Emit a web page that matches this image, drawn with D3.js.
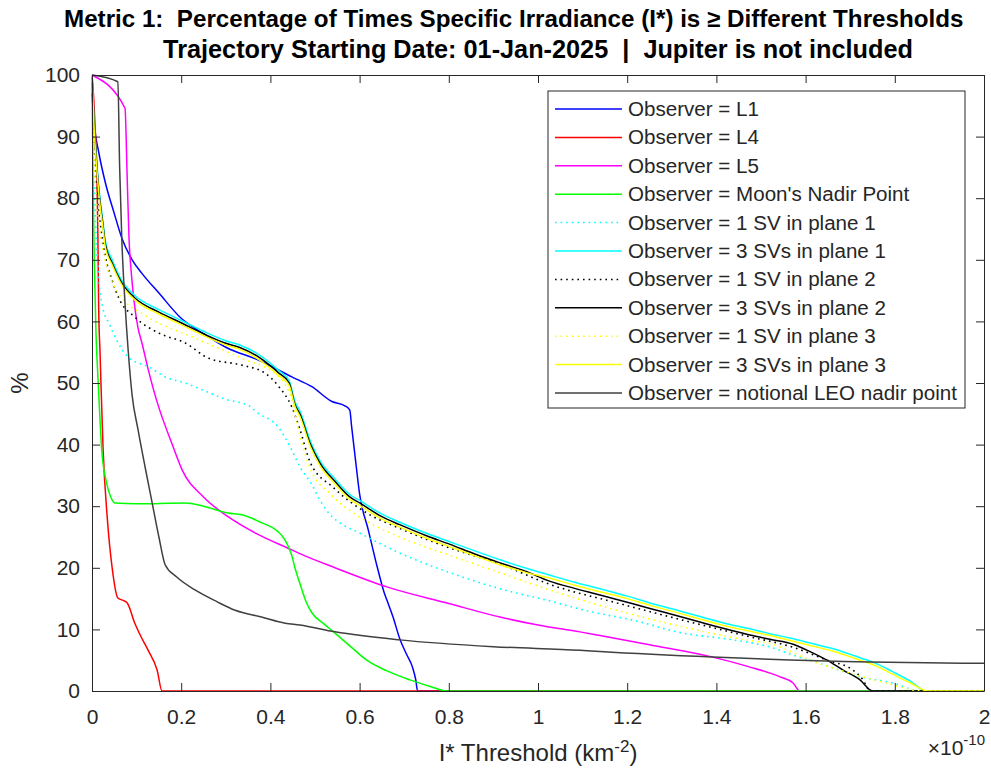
<!DOCTYPE html>
<html><head><meta charset="utf-8">
<script src="https://cdn.jsdelivr.net/npm/d3@7"></script>
<style>
body{margin:0;background:#fff}
text{font-family:"Liberation Sans",Arial,Helvetica,sans-serif;fill:#262626}
</style></head>
<body><svg id="c" width="991" height="771"></svg>
<script>
// ---------- data (x in units of 1e-10 km^-2, y in %) ----------
const xTicks = [0,0.2,0.4,0.6,0.8,1,1.2,1.4,1.6,1.8,2];
const xTickLabels = ["0","0.2","0.4","0.6","0.8","1","1.2","1.4","1.6","1.8","2"];
const yTicks = [0,10,20,30,40,50,60,70,80,90,100];
const yTickLabels = ["0","10","20","30","40","50","60","70","80","90","100"];

const seriesNames = ["Observer = L1","Observer = L4","Observer = L5","Observer = Moon's Nadir Point",
  "Observer = 1 SV in plane 1","Observer = 3 SVs in plane 1","Observer = 1 SV in plane 2",
  "Observer = 3 SVs in plane 2","Observer = 1 SV in plane 3","Observer = 3 SVs in plane 3",
  "Observer = notional LEO nadir point"];

const obsL1 = [[0,97],[0.005,92],[0.015,87.5],[0.03,82.5],[0.05,77.5],[0.067,73.5],[0.09,70],[0.112,67.8],[0.15,64.6],[0.2,60.5],[0.25,58],[0.3,55.8],[0.374,53.7],[0.448,51],[0.493,49.4],[0.538,47],[0.567,46.3],[0.578,45.6],[0.582,43],[0.59,38],[0.6,32],[0.62,26],[0.64,20],[0.655,16],[0.661,14.8],[0.675,12],[0.69,8.5],[0.705,6],[0.718,4],[0.726,1.8],[0.73,0],[2,0]];
const obsL4 = [[0,100],[0.004,96],[0.008,90],[0.011,84],[0.013,75],[0.015,62],[0.018,55],[0.025,39],[0.034,28.3],[0.045,20.1],[0.058,15.1],[0.07,14.7],[0.079,14.3],[0.096,11],[0.11,8.8],[0.126,6.6],[0.146,3.4],[0.157,0],[2,0]];
const obsL5 = [[0,100],[0.074,94.6],[0.079,83],[0.083,73.5],[0.088,68],[0.094,63.5],[0.103,59],[0.112,56.5],[0.125,52.5],[0.15,46],[0.157,44.5],[0.18,40],[0.202,35.9],[0.25,31.5],[0.305,28.3],[0.37,25.5],[0.448,22.9],[0.466,22.3],[0.545,20],[0.661,16.9],[0.8,14.2],[0.915,12],[1.0,10.7],[1.094,9.6],[1.139,9.0],[1.25,7.5],[1.392,5.5],[1.47,4.0],[1.543,2.3],[1.572,1.3],[1.587,0],[2,0]];
const obsMoon = [[0,100],[0.002,85],[0.005,70],[0.009,58],[0.014,50],[0.022,39],[0.032,34],[0.042,31.5],[0.052,30.5],[0.1,30.4],[0.209,30.5],[0.25,30],[0.305,28.9],[0.336,28.6],[0.381,27.3],[0.415,26],[0.433,24.5],[0.448,22],[0.455,20],[0.466,17.5],[0.48,14.5],[0.493,12.7],[0.52,10.9],[0.545,9.4],[0.58,7.2],[0.616,5],[0.66,3.3],[0.713,1.8],[0.76,0.7],[0.796,0],[2,0]];
const sv1p1 = [[0,100],[0.003,88],[0.008,76],[0.016,66.2],[0.025,62],[0.038,59.7],[0.055,57],[0.081,54.2],[0.128,52.6],[0.164,51],[0.209,50],[0.25,48.8],[0.298,47.4],[0.352,46.3],[0.372,45.1],[0.417,42.9],[0.448,39.1],[0.466,36.4],[0.493,33.5],[0.511,31],[0.538,28.3],[0.556,27.3],[0.601,25.6],[0.69,22.4],[0.803,19.2],[0.915,16.6],[1.027,14.6],[1.117,12.9],[1.213,11.5],[1.325,9.4],[1.437,8.3],[1.527,7.0],[1.565,6.0],[1.632,4.5],[1.722,2.3],[1.796,1.3],[1.857,0],[2,0]];
const sv3p1 = [[0,100],[0.004,93.5],[0.01,86.5],[0.017,80.5],[0.024,76.5],[0.03,73],[0.045,70],[0.067,66.6],[0.096,64.2],[0.15,61.9],[0.202,60.1],[0.25,58.4],[0.298,56.9],[0.33,56.2],[0.374,54.6],[0.419,52],[0.442,50.4],[0.455,47],[0.466,45.5],[0.49,40.5],[0.511,37.4],[0.545,34.4],[0.578,31.9],[0.601,30.9],[0.65,28.7],[0.69,27.4],[0.75,25.6],[0.803,24.2],[0.86,22.7],[0.915,21.3],[0.97,20],[1.027,18.8],[1.08,17.7],[1.139,16.6],[1.2,15.4],[1.251,14.3],[1.318,13],[1.363,12.1],[1.43,10.8],[1.475,10.1],[1.52,9.3],[1.565,8.6],[1.61,7.8],[1.66,6.9],[1.722,5.4],[1.76,4.4],[1.796,3.1],[1.835,1.6],[1.87,0],[2,0]];
const sv1p2 = [[0,100],[0.004,90],[0.01,82],[0.02,75],[0.03,70.5],[0.045,66.7],[0.06,63.8],[0.096,60.7],[0.15,58.1],[0.209,56.5],[0.262,54],[0.336,52.9],[0.388,51.6],[0.419,49.4],[0.448,46.1],[0.466,42.5],[0.49,37],[0.54,33.1],[0.616,28.9],[0.69,26.4],[0.803,23.2],[0.915,20.6],[1.027,17.3],[1.177,14.3],[1.325,11.5],[1.475,8.8],[1.572,7.1],[1.648,5],[1.706,3.4],[1.729,1.8],[1.745,0],[2,0]];
const sv3p2 = [[0,100],[0.004,93],[0.01,86],[0.017,80],[0.024,76],[0.03,72.5],[0.045,69.5],[0.067,66.2],[0.096,63.8],[0.15,61.5],[0.202,59.7],[0.25,58],[0.298,56.5],[0.33,55.8],[0.374,54.2],[0.419,51.6],[0.442,50],[0.455,46.5],[0.466,45],[0.49,40],[0.511,37],[0.545,34],[0.578,31.5],[0.601,30.5],[0.65,28.3],[0.69,27],[0.75,25.2],[0.803,23.8],[0.86,22.2],[0.915,20.8],[0.97,19.5],[1.027,17.8],[1.08,16.7],[1.139,15.6],[1.2,14.4],[1.251,13.4],[1.318,12.1],[1.363,11.2],[1.43,9.9],[1.475,9.1],[1.52,8.4],[1.572,7.6],[1.61,6.4],[1.648,5.0],[1.684,3.4],[1.722,1.8],[1.75,0],[2,0]];
const sv1p3 = [[0,100],[0.004,88],[0.01,80],[0.02,73.5],[0.035,68.5],[0.06,64.5],[0.119,61],[0.224,57.5],[0.336,54],[0.419,51],[0.448,47.2],[0.466,41.5],[0.49,36],[0.534,32],[0.601,28.2],[0.69,25],[0.803,22],[0.915,19.2],[1.027,16.4],[1.177,13.1],[1.325,10.4],[1.475,8.2],[1.52,7.7],[1.61,5.0],[1.70,2.9],[1.78,1.3],[1.863,0],[2,0]];
const sv3p3 = [[0,100],[0.004,92.5],[0.01,85.5],[0.017,79.5],[0.024,75.5],[0.03,72],[0.045,69.2],[0.067,65.9],[0.096,63.5],[0.15,61.2],[0.202,59.4],[0.25,57.7],[0.298,56.2],[0.33,55.5],[0.374,53.8],[0.419,51.2],[0.442,49.6],[0.455,46.2],[0.466,44.6],[0.49,39.6],[0.511,36.6],[0.545,33.6],[0.578,31.1],[0.601,30.1],[0.65,27.9],[0.69,26.6],[0.75,24.8],[0.803,23.4],[0.86,21.9],[0.915,20.5],[0.97,19.3],[1.027,18.3],[1.08,17.2],[1.139,16.1],[1.2,15],[1.251,13.9],[1.318,12.6],[1.363,11.7],[1.43,10.4],[1.475,9.7],[1.52,9],[1.565,8.2],[1.61,7.4],[1.66,6.5],[1.722,5],[1.76,4],[1.796,2.7],[1.835,1.3],[1.875,0],[2,0]];
const leoNadir = [[0,100],[0.058,98.9],[0.062,85],[0.067,73],[0.074,63],[0.081,55.4],[0.09,48],[0.103,42.5],[0.12,36],[0.135,30.5],[0.15,25],[0.164,20.5],[0.19,18.5],[0.231,16.4],[0.28,14.5],[0.321,13.1],[0.38,12],[0.433,11],[0.466,10.7],[0.545,9.6],[0.69,8.3],[0.9,7.2],[1.094,6.6],[1.139,6.4],[1.392,5.5],[1.744,4.7],[2,4.5]];

const seriesData = [obsL1, obsL4, obsL5, obsMoon, sv1p1, sv3p1, sv1p2, sv3p2, sv1p3, sv3p3, leoNadir];
const seriesColors = ["#0000ff","#ff0000","#ff00ff","#00ff00","#00ffff","#00ffff","#000000","#000000","#ffff00","#ffff00","#404040"];
const seriesDotted = [false,false,false,false,true,false,true,false,true,false,false];

// ---------- layout ----------
const svg = d3.select("#c");
const L = 92, R = 984, T = 75, B = 691;
const x = d3.scaleLinear().domain([0,2]).range([L,R]);
const y = d3.scaleLinear().domain([0,100]).range([B,T]);

svg.append("rect").attr("x",0).attr("y",0).attr("width",991).attr("height",771).attr("fill","#fff");
svg.append("defs").append("clipPath").attr("id","clip")
  .append("rect").attr("x",L-1).attr("y",T-1).attr("width",R-L+2).attr("height",B-T+2);

// lines
const line = d3.line().x(d=>x(d[0])).y(d=>y(d[1])).curve(d3.curveMonotoneX);
const gl = svg.append("g").attr("clip-path","url(#clip)");
seriesData.forEach((s,i)=>{
  gl.append("path").attr("d",line(s)).attr("fill","none")
    .attr("stroke",seriesColors[i]).attr("stroke-width",seriesDotted[i]?1.6:1.5)
    .attr("stroke-dasharray",seriesDotted[i]?"1.6,4":null)
    .attr("stroke-linejoin","round");
});

// axes
function styleAxis(g){
  g.selectAll(".domain").attr("stroke","#262626").attr("stroke-width",1);
  g.selectAll(".tick line").attr("stroke","#262626").attr("stroke-width",1);
  g.selectAll("text").attr("fill","#262626").style("font-size","21px")
    .style("font-family",'"Liberation Sans",Arial,sans-serif');
  g.attr("font-size",null).attr("font-family",null);
}
const xb = svg.append("g").attr("transform",`translate(0,${B})`)
  .call(d3.axisBottom(x).tickValues(xTicks).tickFormat((d,i)=>xTickLabels[i]).tickSizeInner(-8).tickSizeOuter(0).tickPadding(18));
styleAxis(xb);
const xt = svg.append("g").attr("transform",`translate(0,${T})`)
  .call(d3.axisTop(x).tickValues(xTicks).tickFormat("").tickSizeInner(-8).tickSizeOuter(0));
styleAxis(xt);
const yl = svg.append("g").attr("transform",`translate(${L},0)`)
  .call(d3.axisLeft(y).tickValues(yTicks).tickFormat((d,i)=>yTickLabels[i]).tickSizeInner(-8).tickSizeOuter(0).tickPadding(12));
styleAxis(yl);
const yr = svg.append("g").attr("transform",`translate(${R},0)`)
  .call(d3.axisRight(y).tickValues(yTicks).tickFormat("").tickSizeInner(-8).tickSizeOuter(0));
styleAxis(yr);

// fit helper
function fit(sel, target, base){
  sel.style("font-size", base+"px");
  const w = sel.node().getComputedTextLength();
  const s = base*target/w;
  sel.style("font-size", s+"px");
  return s;
}

// titles
const t2 = svg.append("text").attr("x",538).attr("y",58).attr("text-anchor","middle")
  .style("font-weight","bold").style("white-space","pre").style("fill","#000")
  .text("Trajectory Starting Date: 01-Jan-2025  |  Jupiter is not included");
fit(t2, 750, 24);
const t1 = svg.append("text").attr("x",64).attr("y",27).attr("text-anchor","start")
  .style("font-weight","bold").style("white-space","pre").style("fill","#000")
  .text("Metric 1:  Percentage of Times Specific Irradiance (I*) is \u2265 Different Thresholds");
fit(t1, 900, 24);

// x label
const xlab = svg.append("text").attr("x",538).attr("y",761).attr("text-anchor","middle").style("font-size","24px");
xlab.append("tspan").text("I* Threshold (km");
xlab.append("tspan").attr("dy",-9).style("font-size","17px").text("-2");
xlab.append("tspan").attr("dy",9).text(")");

// y label
svg.append("text").attr("transform","translate(28,383) rotate(-90)").attr("text-anchor","middle")
  .style("font-size","24px").text("%");

// exponent
const ex = svg.append("text").attr("x",x(2)+1).attr("y",755).attr("text-anchor","end").style("font-size","21px");
ex.append("tspan").text("\u00d710");
ex.append("tspan").attr("dy",-10).style("font-size","15px").text("-10");

// legend
const lg = svg.append("g");
lg.append("rect").attr("x",548).attr("y",91).attr("width",417).attr("height",317)
  .attr("fill","#fff").attr("stroke","#262626").attr("stroke-width",1);
let lfs = null;
seriesNames.forEach((n,i)=>{
  const yy = 109 + i*28.4;
  lg.append("line").attr("x1",555).attr("x2",622).attr("y1",yy).attr("y2",yy)
    .attr("stroke",seriesColors[i]).attr("stroke-width",1.5)
    .attr("stroke-dasharray",seriesDotted[i]?"1.6,4":null);
  const t = lg.append("text").attr("x",628).attr("y",yy+7).text(n);
  if(i===seriesNames.length-1){ lfs = fit(t, 329, 20); }
  else t.style("font-size","20px");
});
lg.selectAll("text").style("font-size", lfs+"px");
</script></body></html>
